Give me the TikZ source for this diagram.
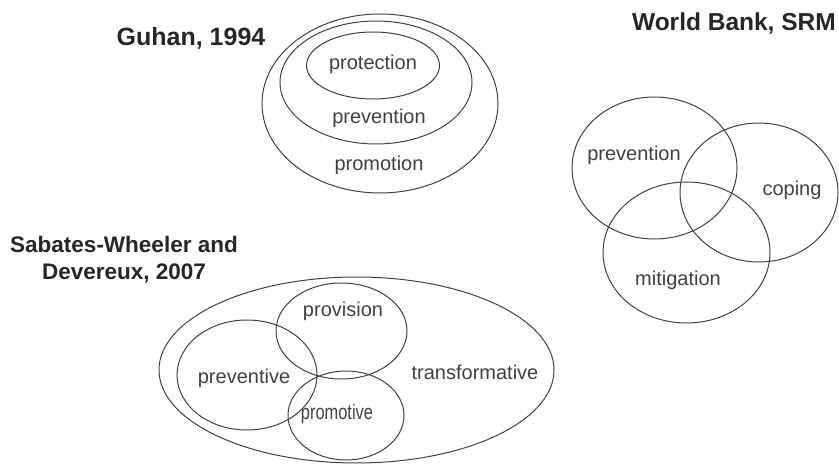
\documentclass[tikz,border=0pt]{standalone}
\usepackage{fontspec}
\setmainfont{Liberation Sans}
\usepackage{graphicx}
\begin{document}
\begin{tikzpicture}[x=1pt,y=-1pt,
  ring/.style={draw=black!75, line width=1pt},
  title/.style={font=\fontsize{24.5}{28}\selectfont\bfseries, text=black!85, align=center, inner sep=0pt},
  lbl/.style={font=\fontsize{20}{23}\selectfont, text=black!75, inner sep=0pt}]
\useasboundingbox (0,0) rectangle (839,465);

% Guhan, 1994: three nested ellipses
\node[title, font=\fontsize{25}{28}\selectfont\bfseries] (gtitle) at (191,38) {Guhan, 1994};
\draw[ring] (380,103.5) ellipse [x radius=118, y radius=89.5];
\draw[ring] (376,82.5) ellipse [x radius=96, y radius=61.5];
\draw[ring] (373,65.5) ellipse [x radius=66.5, y radius=33.5];
\node[lbl] (gprot) at (373,64) {protection};
\node[lbl] (gprev) at (379,118) {prevention};
\node[lbl] (gprom) at (379,165) {promotion};

% World Bank, SRM: three overlapping ellipses
\node[title, anchor=east] (wtitle) at (836,24) {World Bank, SRM};
\draw[ring] (654.5,168) ellipse [x radius=82.5, y radius=71];
\draw[ring] (759,192.5) ellipse [x radius=79, y radius=69.5];
\draw[ring] (686.5,252.5) ellipse [x radius=83.5, y radius=70.5];
\node[lbl] (wprev) at (634,155) {prevention};
\node[lbl] (wcop) at (792,190) {coping};
\node[lbl] (wmit) at (678,280) {mitigation};

% Sabates-Wheeler and Devereux, 2007
\node[title, font=\fontsize{22.5}{26}\selectfont\bfseries] (stitle) at (124,260) {Sabates-Wheeler and\\[1pt]Devereux, 2007};
\draw[ring] (356.5,370) ellipse [x radius=197.5, y radius=93];
\draw[ring] (341.5,331) ellipse [x radius=65.5, y radius=48];
\draw[ring] (247,375) ellipse [x radius=70, y radius=55];
\draw[ring] (346,415.5) ellipse [x radius=58, y radius=44.5];
\node[lbl] (sprov) at (343,311) {provision};
\node[lbl] (sprev) at (244,378) {preventive};
\node[lbl] (sprom) at (337,414) {\scalebox{0.82}[1.05]{promotive}};
\node[lbl] (strans) at (475,372) {transformative};
\end{tikzpicture}
\end{document}
